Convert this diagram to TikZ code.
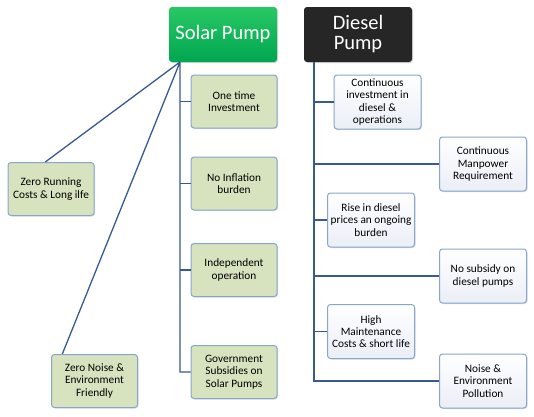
\documentclass[tikz,border=0pt]{standalone}
\usepackage{fontspec}
\setmainfont{Carlito}
\usetikzlibrary{shadows}
\definecolor{lnk}{RGB}{55,90,145}
\definecolor{bordr}{RGB}{135,165,205}
\definecolor{sage}{RGB}{215,227,190}
\definecolor{mist}{RGB}{234,238,246}
\begin{document}
\begin{tikzpicture}[x=1pt,y=-1pt,
 box/.style={draw=bordr,line width=1pt,rounded corners=3pt,align=center,font=\fontsize{11.3}{12.3}\selectfont,inner sep=1pt,drop shadow={opacity=.25,shadow xshift=1pt,shadow yshift=-1pt}},
 gbox/.style={box,fill=sage,minimum width=86pt,minimum height=53pt},
 dbox/.style={box,top color=white,bottom color=mist,minimum width=87pt,minimum height=54pt},
 head/.style={rounded corners=3pt,text=white,align=center,minimum width=108pt,minimum height=55pt,font=\fontsize{20.5}{22}\selectfont,drop shadow={opacity=.3,shadow xshift=1pt,shadow yshift=-1pt}},
 link/.style={draw=lnk,line width=1.3pt}]
\useasboundingbox (0,0) rectangle (534,416);
\node[head,top color={rgb,255:red,40;green,200;blue,100},bottom color={rgb,255:red,0;green,166;blue,80}] (solar) at (223,34.5) {Solar Pump};
\node[head,fill={rgb,255:red,38;green,38;blue,38}] (diesel) at (358,34.5) {Diesel\\[-2pt]Pump};
% solar side
\node[gbox] (one) at (234,101.5) {One time\\Investment};
\node[gbox] (infl) at (234,183.5) {No Inflation\\burden};
\node[gbox] (indep) at (234,270) {Independent\\operation};
\node[gbox] (gov) at (234,372) {Government\\Subsidies on\\Solar Pumps};
\node[gbox] (zrun) at (51,189) {Zero Running\\Costs \& Long ilfe};
\node[gbox] (znoise) at (94.5,381) {Zero Noise \&\\Environment\\Friendly};
% diesel side
\node[dbox] (inv) at (377.5,102) {Continuous\\investment in\\diesel \&\\operations};
\node[dbox] (man) at (483,164) {Continuous\\Manpower\\Requirement};
\node[dbox] (rise) at (371,220) {Rise in diesel\\prices an ongoing\\burden};
\node[dbox] (nosub) at (483,276) {No subsidy on\\diesel pumps};
\node[dbox] (maint) at (371,331.5) {High\\Maintenance\\Costs \& short life};
\node[dbox] (pollu) at (483,381) {Noise \&\\Environment\\Pollution};
% connectors
\coordinate (st) at (180,62);
\coordinate (dt) at (314,62);
\begin{scope}[on background layer/.try]
\draw[link] (st) |- (gov.west) (st) -- (zrun.102) (st) -- (znoise.140);
\foreach \n in {one,infl,indep} \draw[link] (\n.west) -- (\n.west -| st);
\draw[link] (dt) |- (pollu.west);
\foreach \n in {inv,man,rise,nosub,maint} \draw[link] (\n.west) -- (\n.west -| dt);
\end{scope}
\end{tikzpicture}
\end{document}
